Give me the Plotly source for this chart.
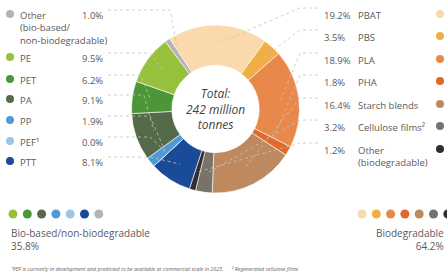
import math
import plotly.graph_objects as go

W, H = 447, 279

# ---- data ----
materials = ["PBAT", "PBS", "PLA", "PHA", "Starch blends", "Cellulose films²",
             "Other (biodegradable)", "PTT", "PEF¹", "PP", "PA", "PET", "PE",
             "Other (bio-based/non-biodegradable)"]
shares = [19.2, 3.5, 18.9, 1.8, 16.4, 3.2, 1.2, 8.1, 0.0, 1.9, 9.1, 6.2, 9.5, 1.0]
colors = ["#fad9ad", "#f2ae45", "#e8884a", "#df6a2a", "#bf8960", "#78726a",
          "#2f2f2f", "#1a4b98", "#9cc4e4", "#4f9ad6", "#546a48", "#4c9638",
          "#97c13c", "#b4b4b4"]

left_items = ["Other (bio-based/non-biodegradable)", "PE", "PET", "PA", "PP", "PEF¹", "PTT"]
left_names = ["Other<br>(bio-based/<br>non-biodegradable)", "PE", "PET", "PA", "PP", "PEF¹", "PTT"]
right_items = ["PBAT", "PBS", "PLA", "PHA", "Starch blends", "Cellulose films²", "Other (biodegradable)"]
right_names = ["PBAT", "PBS", "PLA", "PHA", "Starch blends", "Cellulose films²", "Other<br>(biodegradable)"]

group_labels = ["Bio-based/non-biodegradable", "Biodegradable"]
group_shares = [35.8, 64.2]
left_dot_colors = ["#97c13c", "#4c9638", "#546a48", "#4f9ad6", "#9cc4e4", "#1a4b98", "#b4b4b4"]
right_dot_colors = ["#fad9ad", "#f2ae45", "#e8884a", "#df6a2a", "#bf8960", "#78726a", "#2f2f2f"]

total_text = "Total:<br>242 million<br>tonnes"
footnote = "¹PEF is currently in development and predicted to be available at commercial scale in 2023.      ² Regenerated cellulose films"

# ---- layout helpers ----
def px(x):
    return x / W

def py(y):
    return 1 - y / H

FONT = "Open Sans"
TXT = "#5a5a5a"

cx, cy, R = 215.5, 109, 84
rotation = -33

fig = go.Figure()
fig.add_trace(go.Pie(
    labels=materials, values=shares, marker=dict(colors=colors, line=dict(color="white", width=0.6)),
    sort=False, direction="clockwise", rotation=rotation, hole=0.52,
    textinfo="none", hoverinfo="label+percent", showlegend=False,
    domain=dict(x=[px(cx - R), px(cx + R)], y=[py(cy + R), py(cy - R)]),
))

ann = []
shapes = []

total = sum(shares)
mid_angle = {}
acc = 0
for m, s in zip(materials, shares):
    a0 = rotation + acc / total * 360
    acc += s
    a1 = rotation + acc / total * 360
    mid_angle[m] = (a0 + a1) / 2

def anchor(m, frac=0.78):
    a = math.radians(mid_angle[m])
    return cx + R * frac * math.sin(a), cy - R * frac * math.cos(a)

share_of = dict(zip(materials, shares))

# left labels
left_rows = [14, 57, 79, 99, 120, 141, 161]
for item, name, y in zip(left_items, left_names, left_rows):
    col = colors[materials.index(item)]
    shapes.append(dict(type="circle", xref="paper", yref="paper",
                       x0=px(6), x1=px(14), y0=py(y + 4), y1=py(y - 4),
                       fillcolor=col, line=dict(width=0)))
    ann.append(dict(x=px(18), y=py(y - 7), xanchor="left", yanchor="top", text=name,
                    font=dict(size=9.5, color=TXT, family=FONT), showarrow=False, align="left"))
    ann.append(dict(x=px(80), y=py(y - 7), xanchor="left", yanchor="top",
                    text=f"{share_of[item]:.1f}%",
                    font=dict(size=9.5, color=TXT, family=FONT), showarrow=False))
    ax, ay = anchor(item)
    ex = min(ax - 10, 150) if y > 20 else ax - 8
    shapes.append(dict(type="path", xref="paper", yref="paper",
                       path=f"M {px(108)},{py(y - 4)} L {px(ex)},{py(y - 4)} L {px(ax)},{py(ay)}",
                       line=dict(color="#c4c4c4", width=0.8, dash="dot")))

# right labels
right_rows = [14, 36, 59, 81, 104, 126, 149]
for item, name, y in zip(right_items, right_names, right_rows):
    col = colors[materials.index(item)]
    shapes.append(dict(type="circle", xref="paper", yref="paper",
                       x0=px(436), x1=px(444), y0=py(y + 4), y1=py(y - 4),
                       fillcolor=col, line=dict(width=0)))
    ann.append(dict(x=px(356), y=py(y - 7), xanchor="left", yanchor="top", text=name,
                    font=dict(size=9.5, color=TXT, family=FONT), showarrow=False, align="left"))
    ann.append(dict(x=px(322), y=py(y - 7), xanchor="left", yanchor="top",
                    text=f"{share_of[item]:.1f}%",
                    font=dict(size=9.5, color=TXT, family=FONT), showarrow=False))
    ax, ay = anchor(item)
    ex = max(ax + 12, 300)
    shapes.append(dict(type="path", xref="paper", yref="paper",
                       path=f"M {px(318)},{py(y - 6)} L {px(ex)},{py(y - 6)} L {px(ax)},{py(ay)}",
                       line=dict(color="#c4c4c4", width=0.8, dash="dot")))

# centre text
ann.append(dict(x=px(cx), y=py(cy), xanchor="center", yanchor="middle", text=f"<i>{total_text}</i>",
                font=dict(size=12, color="#444444", family=FONT), showarrow=False))

# bottom group legends
for i, c in enumerate(left_dot_colors):
    x = 13 + i * 14.3
    shapes.append(dict(type="circle", xref="paper", yref="paper",
                       x0=px(x - 4.5), x1=px(x + 4.5), y0=py(218.5), y1=py(209.5),
                       fillcolor=c, line=dict(width=0)))
for i, c in enumerate(right_dot_colors):
    x = 362 + i * 14.3
    shapes.append(dict(type="circle", xref="paper", yref="paper",
                       x0=px(x - 4.5), x1=px(x + 4.5), y0=py(218.5), y1=py(209.5),
                       fillcolor=c, line=dict(width=0)))

ann.append(dict(x=px(9), y=py(224), xanchor="left", yanchor="top",
                text=f"{group_labels[0]}<br>{group_shares[0]:.1f}%", align="left",
                font=dict(size=10, color=TXT, family=FONT), showarrow=False))
ann.append(dict(x=px(446), y=py(224), xanchor="right", yanchor="top",
                text=f"{group_labels[1]}<br>{group_shares[1]:.1f}%", align="right",
                font=dict(size=10, color=TXT, family=FONT), showarrow=False))

ann.append(dict(x=px(9), y=py(269), xanchor="left", yanchor="middle",
                text=f"<i>{footnote}</i>", align="left",
                font=dict(size=5.3, color="#666666", family=FONT), showarrow=False))

fig.update_layout(width=W, height=H, margin=dict(l=0, r=0, t=0, b=0),
                  paper_bgcolor="white", plot_bgcolor="white",
                  annotations=ann, shapes=shapes)
fig.write_html("out.html", config={"displayModeBar": False},
               post_script="document.body.style.margin='0';document.body.style.overflow='hidden';")
